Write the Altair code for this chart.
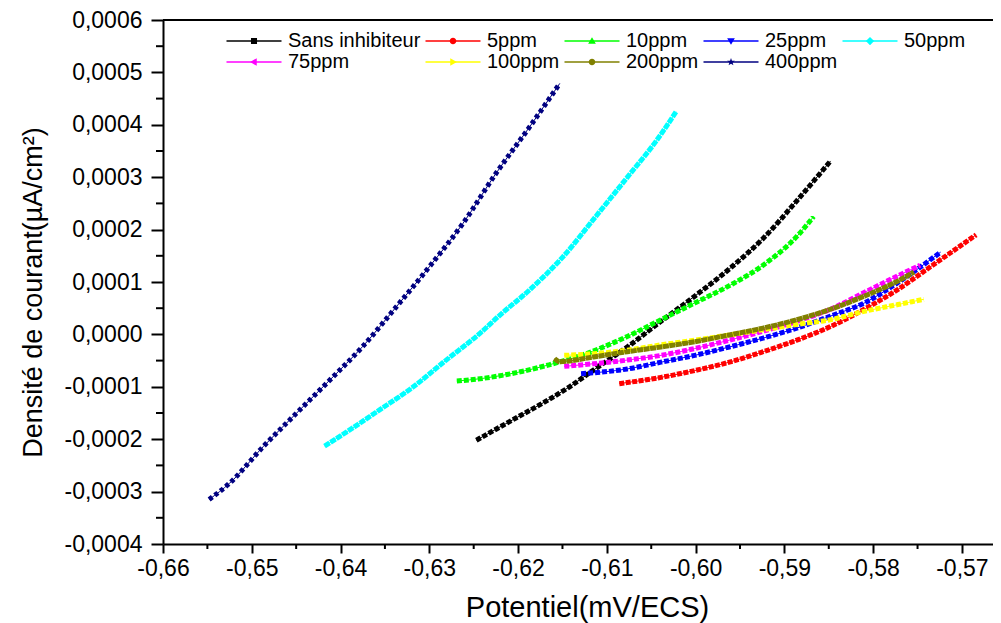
import altair as alt
import pandas as pd

# ---------------- data ----------------
series = ["Sans inhibiteur", "5ppm", "10ppm", "25ppm", "50ppm",
          "75ppm", "100ppm", "200ppm", "400ppm"]
colors = ["#000000", "#FF0000", "#00FF00", "#0000FF", "#00FFFF",
          "#FF00FF", "#FFFF00", "#808000", "#000080"]

E_sans = [-0.6247, -0.6206, -0.6168, -0.6142, -0.6115, -0.6077, -0.6039, -0.6001, -0.5962, -0.5924, -0.5886, -0.5848]
I_sans = [-0.000202, -0.000163, -0.000127, -0.0001, -0.000068, -0.000024, 0.000025, 0.000073, 0.000125, 0.000183, 0.000255, 0.000331]

E_5 = [-0.6086, -0.6039, -0.6001, -0.5962, -0.5924, -0.5886, -0.5848, -0.5810, -0.5772, -0.5733, -0.5684]
I_5 = [-0.000094, -0.000082, -0.000069, -0.000053, -0.000033, -0.000011, 0.000015, 0.000048, 0.000086, 0.000132, 0.00019]

E_10 = [-0.6269, -0.6240, -0.6202, -0.6165, -0.6127, -0.6077, -0.6039, -0.6001, -0.5962, -0.5924, -0.5886, -0.5867]
I_10 = [-0.000089, -0.000084, -0.000073, -0.000058, -0.000039, -0.000004, 0.000028, 0.00006, 0.000093, 0.000132, 0.000187, 0.000225]

E_25 = [-0.6129, -0.6077, -0.6039, -0.6001, -0.5962, -0.5924, -0.5886, -0.5848, -0.5810, -0.5772, -0.5724]
I_25 = [-0.000075, -0.000066, -0.000053, -0.00004, -0.000024, -0.000007, 0.000012, 0.000035, 0.00006, 0.000099, 0.000157]

E_50 = [-0.6418, -0.6393, -0.6356, -0.6318, -0.6281, -0.6243, -0.6221, -0.6187, -0.6150, -0.6112, -0.6074, -0.6044, -0.6022]
I_50 = [-0.000213, -0.000186, -0.000144, -0.0001, -0.000049, 0.000002, 0.000036, 0.000085, 0.000147, 0.000226, 0.000306, 0.00037, 0.000425]

E_75 = [-0.6148, -0.6115, -0.6077, -0.6039, -0.6001, -0.5962, -0.5924, -0.5886, -0.5848, -0.5810, -0.5772, -0.5747]
I_75 = [-0.000061, -0.000056, -0.000049, -0.00004, -0.000027, -0.000011, 0.000006, 0.000025, 0.000048, 0.00008, 0.000112, 0.000132]

E_100 = [-0.6148, -0.6115, -0.6077, -0.6039, -0.6001, -0.5962, -0.5924, -0.5886, -0.5848, -0.5810, -0.5772, -0.5743]
I_100 = [-0.00004, -0.000037, -0.00003, -0.00002, -0.000011, -0.000001, 0.000009, 0.000019, 0.000028, 0.000044, 0.000057, 0.000067]

E_200 = [-0.6159, -0.6153, -0.6115, -0.6077, -0.6039, -0.6001, -0.5962, -0.5924, -0.5886, -0.5848, -0.5810, -0.5772, -0.5754]
I_200 = [-0.000046, -0.000052, -0.000043, -0.000033, -0.000024, -0.000014, -0.000001, 0.000012, 0.000028, 0.000048, 0.000073, 0.000102, 0.000119]

E_400 = [-0.6548, -0.6525, -0.6487, -0.6450, -0.6412, -0.6375, -0.6337, -0.6300, -0.6262, -0.6225, -0.6187, -0.6153]
I_400 = [-0.000315, -0.000284, -0.000214, -0.000151, -0.000087, -0.000023, 0.000053, 0.000129, 0.000212, 0.000307, 0.000396, 0.000479]

x_major = [-0.66, -0.65, -0.64, -0.63, -0.62, -0.61, -0.60, -0.59, -0.58, -0.57]
x_minor = [-0.655, -0.645, -0.635, -0.625, -0.615, -0.605, -0.595, -0.585, -0.575]
y_major = [0.0006, 0.0005, 0.0004, 0.0003, 0.0002, 0.0001, 0.0, -0.0001, -0.0002, -0.0003, -0.0004]
y_minor = [0.00055, 0.00045, 0.00035, 0.00025, 0.00015, 0.00005, -0.00005, -0.00015, -0.00025, -0.00035]

all_E = [E_sans, E_5, E_10, E_25, E_50, E_75, E_100, E_200, E_400]
all_I = [I_sans, I_5, I_10, I_25, I_50, I_75, I_100, I_200, I_400]

rows = []
for name, es, is_ in zip(series, all_E, all_I):
    for k, (e, i) in enumerate(zip(es, is_)):
        rows.append({"series": name, "E": e, "I": i, "k": k})
df = pd.DataFrame(rows)

# ---------------- styling ----------------
FONT = "Liberation Sans"
W, H = 830, 524

dashes = [[5, 2], [5, 1.5], [5, 2], [5, 2], [6, 1], [5, 2], [5, 2], [6, 0.5], [4, 3]]

# legend symbols (custom paths, unit = sqrt(size)/2 px); the line sits left of the symbol box
line_path = "M-9,0H1"
marker_only = [
    "M-4.55,-0.55H-3.45V0.55H-4.55Z",                                   # square
    "M-3.4,0A0.6,0.6 0 1,1 -4.6,0A0.6,0.6 0 1,1 -3.4,0Z",               # circle
    "M-4,-0.7L-3.3,0.5L-4.7,0.5Z",                                       # tri up
    "M-4,0.7L-3.3,-0.5L-4.7,-0.5Z",                                      # tri down
    "M-4,-0.75L-3.25,0L-4,0.75L-4.75,0Z",                                # diamond
    "M-4.7,0L-3.5,-0.7L-3.5,0.7Z",                                       # tri left
    "M-3.3,0L-4.5,-0.7L-4.5,0.7Z",                                       # tri right
    "M-3.4,0A0.6,0.6 0 1,1 -4.6,0A0.6,0.6 0 1,1 -3.4,0Z",               # circle
    "M-4,-0.75L-3.824,-0.243L-3.287,-0.232L-3.715,0.093L-3.559,0.607L-4,0.3L-4.441,0.607L-4.285,0.093L-4.713,-0.232L-4.176,-0.243Z",  # star
]
# same extent as the line symbol so that both legends lay out identically
marker_paths = [line_path + m for m in marker_only]

xscale = alt.Scale(domain=[-0.66, -0.5665], nice=False, zero=False)
yscale = alt.Scale(domain=[-0.0004, 0.0006], nice=False, zero=False)

xaxis = alt.Axis(
    values=x_major, grid=False, title="Potentiel(mV/ECS)",
    labelExpr="(datum.value < 0 ? '-' : '') + replace(format(abs(datum.value), '.2f'), '.', ',')",
    tickSize=9, tickWidth=2, tickColor="black", domainWidth=2, domainColor="black",
    labelFont=FONT, labelFontSize=23, labelColor="black", labelPadding=4,
    labelFlush=False, labelOverlap=False,
    titleFont=FONT, titleFontSize=29, titleFontWeight="normal", titleColor="black",
    titleX=424, titleY=72, titleBaseline="alphabetic", titleAlign="center",
)
yaxis = alt.Axis(
    values=y_major, grid=False, title="Densité de courant(µA/cm²)",
    labelExpr="(datum.value < 0 ? '-' : '') + replace(format(abs(datum.value), '.4f'), '.', ',')",
    tickSize=12, tickWidth=2, tickColor="black", domainWidth=2, domainColor="black",
    labelFont=FONT, labelFontSize=23, labelColor="black", labelPadding=9,
    labelFlush=False, labelOverlap=False,
    titleFont=FONT, titleFontSize=27, titleFontWeight="normal", titleColor="black",
    titleX=-122, titleY=272, titleBaseline="alphabetic", titleAngle=-90, titleAlign="center",
)

legend_common = dict(
    title=None, orient="none", columns=5, direction="horizontal",
    symbolSize=121, symbolStrokeWidth=1.5, labelFont=FONT, labelFontSize=20,
    labelOffset=2, columnPadding=1, rowPadding=1, padding=0,
    legendX=103, legendY=11,
)
legend_lines = alt.Legend(symbolType=line_path, labelColor="black", **legend_common)
legend_marks = alt.Legend(labelColor="black", labelOpacity=0, symbolOpacity=1, **legend_common)

X = alt.X("E:Q", scale=xscale, axis=xaxis)
Y = alt.Y("I:Q", scale=yscale, axis=yaxis)

thin = alt.Chart(df).mark_line(strokeWidth=1, interpolate="monotone").encode(
    x=X, y=Y,
    color=alt.Color("series:N", sort=series, scale=alt.Scale(range=colors), legend=legend_lines),
    order="k:Q",
)
thick = alt.Chart(df).mark_line(strokeWidth=5, interpolate="monotone").encode(
    x=X, y=Y,
    color=alt.Color("series:N", sort=series, scale=alt.Scale(range=colors), legend=None),
    strokeDash=alt.StrokeDash("series:N", scale=alt.Scale(domain=series, range=dashes), legend=None),
    order="k:Q",
)

# legend-only layer: its points sit outside the canvas, only its legend (the markers) shows
legend_df = pd.DataFrame({"lg": series})
marks = alt.Chart(legend_df).mark_point(filled=True).encode(
    x=alt.value(-2000), y=alt.value(-2000),
    fill=alt.Fill("lg:N", scale=alt.Scale(domain=series, range=colors), legend=legend_marks),
    shape=alt.Shape("lg:N", scale=alt.Scale(domain=series, range=marker_paths), legend=legend_marks),
)

xminor = alt.Chart(pd.DataFrame({"E": x_minor})).mark_rule(color="black", strokeWidth=2).encode(
    x=X, y=alt.value(H), y2=alt.value(H + 5))
yminor = alt.Chart(pd.DataFrame({"I": y_minor})).mark_rule(color="black", strokeWidth=2).encode(
    y=Y, x=alt.value(0), x2=alt.value(-7))
top = alt.Chart(pd.DataFrame({"a": [0]})).mark_rule(color="black", strokeWidth=2).encode(
    x=alt.value(0), x2=alt.value(W), y=alt.value(0))

chart = alt.layer(thin, thick, marks, xminor, yminor, top).resolve_legend(
    fill="independent", shape="independent"
).properties(
    width=W, height=H,
    padding={"left": 155, "top": 12, "right": 0, "bottom": 80},
    autosize=alt.AutoSizeParams(type="none"),
).configure_view(stroke=None)

chart.save("out.html", embed_options={"renderer": "svg", "actions": False})
